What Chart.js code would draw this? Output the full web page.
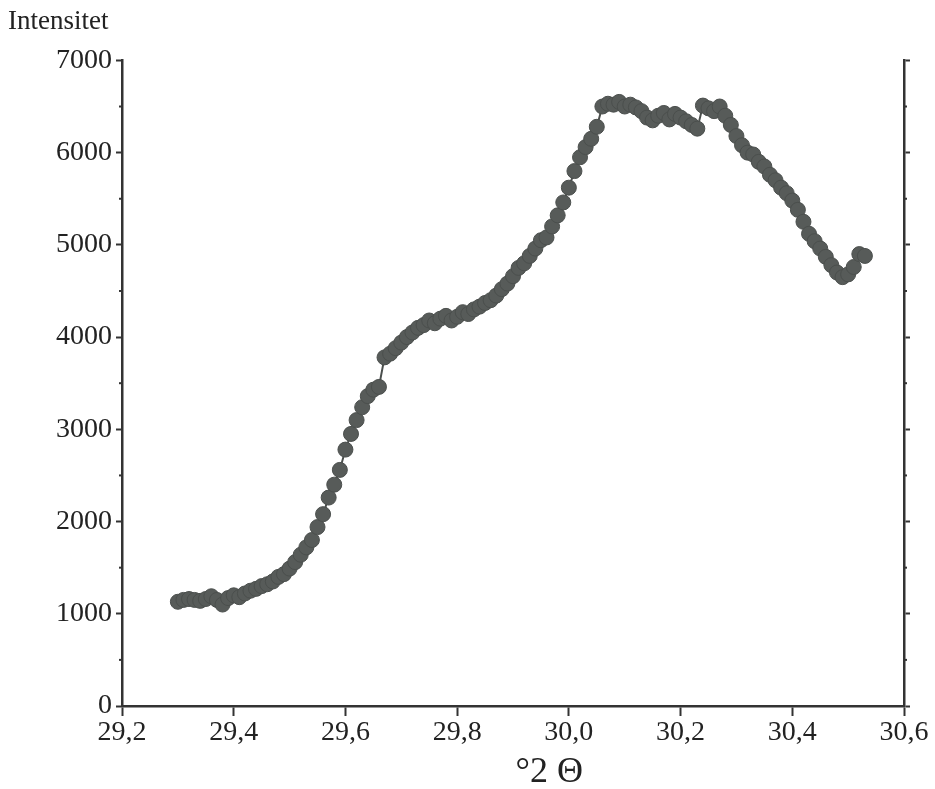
<!DOCTYPE html>
<html>
<head>
<meta charset="utf-8">
<script src="https://cdn.jsdelivr.net/npm/chart.js@4/dist/chart.umd.min.js"></script>
<style>
  html, body { margin: 0; padding: 0; background: #fff; }
  #wrap { width: 935px; height: 789px; position: relative; }
</style>
</head>
<body>
<div id="wrap"><canvas id="c" width="935" height="789"></canvas></div>
<script>
// 2-theta positions (degrees)
const twoTheta = [
  29.30,29.31,29.32,29.33,29.34,29.35,29.36,29.37,29.38,29.39,
  29.40,29.41,29.42,29.43,29.44,29.45,29.46,29.47,29.48,29.49,
  29.50,29.51,29.52,29.53,29.54,29.55,29.56,29.57,29.58,29.59,
  29.60,29.61,29.62,29.63,29.64,29.65,29.66,29.67,29.68,29.69,
  29.70,29.71,29.72,29.73,29.74,29.75,29.76,29.77,29.78,29.79,
  29.80,29.81,29.82,29.83,29.84,29.85,29.86,29.87,29.88,29.89,
  29.90,29.91,29.92,29.93,29.94,29.95,29.96,29.97,29.98,29.99,
  30.00,30.01,30.02,30.03,30.04,30.05,30.06,30.07,30.08,30.09,
  30.10,30.11,30.12,30.13,30.14,30.15,30.16,30.17,30.18,30.19,
  30.20,30.21,30.22,30.23,30.24,30.25,30.26,30.27,30.28,30.29,
  30.30,30.31,30.32,30.33,30.34,30.35,30.36,30.37,30.38,30.39,
  30.40,30.41,30.42,30.43,30.44,30.45,30.46,30.47,30.48,30.49,
  30.50,30.51,30.52,30.53
];
// Intensity readings
const intensity = [
  1130,1150,1160,1150,1140,1160,1190,1150,1100,1170,
  1200,1180,1220,1250,1270,1300,1320,1350,1400,1430,
  1490,1560,1640,1720,1800,1940,2080,2260,2400,2560,
  2780,2950,3100,3240,3360,3430,3460,3780,3820,3880,
  3940,4000,4050,4100,4130,4180,4150,4200,4230,4180,
  4220,4270,4250,4300,4330,4370,4400,4450,4520,4580,
  4660,4750,4800,4880,4960,5050,5080,5200,5320,5460,
  5620,5800,5950,6060,6150,6280,6500,6530,6520,6550,
  6500,6520,6490,6450,6380,6350,6400,6430,6360,6420,
  6380,6340,6300,6260,6510,6480,6450,6500,6400,6300,
  6180,6080,6000,5980,5900,5850,5760,5700,5620,5560,
  5480,5380,5250,5120,5040,4960,4870,4780,4700,4650,
  4680,4760,4900,4880
];
const xTickValues = [29.2, 29.4, 29.6, 29.8, 30.0, 30.2, 30.4, 30.6];
const yTickValues = [0, 1000, 2000, 3000, 4000, 5000, 6000, 7000];
const yMinorValues = [500, 1500, 2500, 3500, 4500, 5500, 6500];

const AXIS = '#333333';
const TXT = '#222222';
const SERIF = '"Liberation Serif", "DejaVu Serif", serif';

const points = twoTheta.map((x, i) => ({ x: x, y: intensity[i] }));

const minorTicks = {
  id: 'minorTicks',
  afterDraw(chart) {
    const ctx = chart.ctx;
    const yl = chart.scales.y, yr = chart.scales.y2;
    ctx.save();
    ctx.strokeStyle = AXIS;
    ctx.lineWidth = 2;
    yMinorValues.forEach(v => {
      const py = yl.getPixelForValue(v);
      ctx.beginPath(); ctx.moveTo(yl.right, py); ctx.lineTo(yl.right - 3, py); ctx.stroke();
      const pr = yr.getPixelForValue(v);
      ctx.beginPath(); ctx.moveTo(yr.left, pr); ctx.lineTo(yr.left + 3, pr); ctx.stroke();
    });
    // x axis title
    const xs = chart.scales.x;
    ctx.fillStyle = TXT;
    ctx.font = '36px ' + SERIF;
    ctx.textAlign = 'center';
    ctx.textBaseline = 'alphabetic';
    ctx.fillText('°2 Θ', xs.getPixelForValue(29.965), 782);
    ctx.restore();
  }
};

new Chart(document.getElementById('c'), {
  type: 'scatter',
  data: {
    datasets: [{
      data: points,
      showLine: true,
      borderColor: '#4b4f4d',
      borderWidth: 2,
      backgroundColor: '#575b59',
      pointBackgroundColor: '#575b59',
      pointBorderColor: '#4b4f4d',
      pointBorderWidth: 1,
      pointRadius: 7.5,
      pointHoverRadius: 7.5,
      yAxisID: 'y'
    }]
  },
  options: {
    responsive: false,
    animation: false,
    events: [],
    layout: { padding: { left: 8, right: 0, top: 6, bottom: 0 } },
    plugins: {
      legend: { display: false },
      tooltip: { enabled: false },
      title: {
        display: true,
        text: 'Intensitet',
        align: 'start',
        color: TXT,
        font: { family: SERIF, size: 27, weight: 'normal' },
        padding: { top: 0, bottom: 22 }
      }
    },
    scales: {
      x: {
        type: 'linear',
        min: 29.2, max: 30.6,
        afterBuildTicks: s => { s.ticks = xTickValues.map(v => ({ value: v })); },
        ticks: {
          color: TXT,
          font: { family: SERIF, size: 28 },
          padding: 0,
          maxRotation: 0,
          autoSkip: false,
          callback: v => Number(v).toFixed(1).replace('.', ',')
        },
        grid: { drawOnChartArea: false, drawTicks: true, tickLength: 10, tickWidth: 2, tickColor: AXIS },
        border: { display: true, color: AXIS, width: 2.5 },
        afterFit: s => { s.height = 83; }
      },
      y: {
        position: 'left',
        min: 0, max: 7000,
        afterBuildTicks: s => { s.ticks = yTickValues.map(v => ({ value: v })); },
        ticks: {
          color: TXT,
          font: { family: SERIF, size: 28 },
          padding: 4,
          callback: v => String(v)
        },
        grid: { drawOnChartArea: false, drawTicks: true, tickLength: 6, tickWidth: 2, tickColor: AXIS },
        border: { display: true, color: AXIS, width: 2.5 },
        afterFit: s => { s.width = 114; }
      },
      y2: {
        position: 'right',
        min: 0, max: 7000,
        afterBuildTicks: s => { s.ticks = yTickValues.map(v => ({ value: v })); },
        ticks: { display: true, callback: () => '', font: { size: 1 } , padding: 0},
        grid: { drawOnChartArea: false, drawTicks: true, tickLength: 6, tickWidth: 2, tickColor: AXIS },
        border: { display: true, color: AXIS, width: 2.5 },
        afterFit: s => { s.width = 31; }
      }
    }
  },
  plugins: [minorTicks]
});
</script>
</body>
</html>
